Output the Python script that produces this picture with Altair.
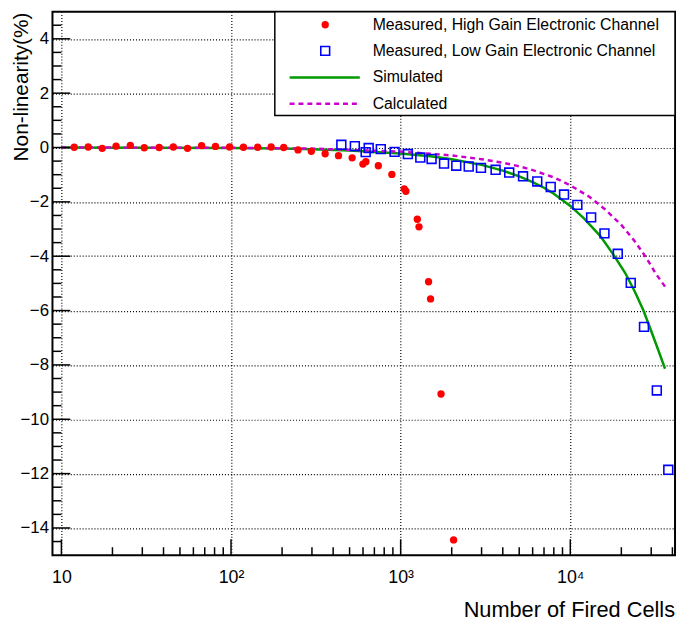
import altair as alt
import pandas as pd

# ---------------- data ----------------
hg_x = [11.9, 14.4, 17.4, 21.0, 25.5, 30.8, 37.7, 45.7, 55.4, 67.1, 81.0, 98.1, 118.4, 143.5,
        172.4, 204.4, 248.3, 297.5, 358.9, 430.2, 517.6, 599.1, 623.7, 738.5, 887.7,
        1049.5, 1073.7, 1254, 1283, 1461, 1501, 1730, 2052]
hg_y = [0.01, 0.02, -0.03, 0.05, 0.08, -0.01, 0.0, 0.02, -0.03, 0.07, 0.04, 0.02, 0.01, 0.01,
        0.02, 0.0, -0.09, -0.14, -0.23, -0.30, -0.38, -0.61, -0.52, -0.67, -0.99,
        -1.52, -1.61, -2.64, -2.92, -4.94, -5.57, -9.07, -14.44]

lg_x = [447, 537, 622, 648, 764, 921, 1103, 1306, 1522, 1802, 2128, 2519, 2975, 3629, 4366,
        5267, 6390, 7669, 9190, 11013, 13273, 15906, 19056, 22722, 27204, 32370, 37825]
lg_y = [0.10, 0.05, -0.17, -0.02, -0.06, -0.16, -0.24, -0.37, -0.42, -0.59, -0.67, -0.70,
        -0.75, -0.82, -0.92, -1.06, -1.25, -1.45, -1.73, -2.11, -2.57, -3.16, -3.91, -4.98,
        -6.60, -8.94, -11.86]

sim_x = [10, 30, 100, 200, 300, 500, 1000, 1500, 2000, 3000, 4000, 5000, 6000, 7000, 8000,
         10000, 12000, 15000, 18000, 21000, 24000, 27000, 30000, 33000, 36200]
sim_y = [0.0, -0.01, -0.02, -0.04, -0.06, -0.11, -0.22, -0.32, -0.43, -0.64, -0.85, -1.06,
         -1.27, -1.48, -1.70, -2.15, -2.60, -3.25, -3.95, -4.60, -5.30, -6.00, -6.75, -7.45,
         -8.14]

calc_x = [10, 100, 300, 1000, 2000, 3000, 4000, 5000, 6000, 8000, 10000, 13000, 16000,
          20000, 24000, 28000, 32000, 36300]
calc_y = [0.0, -0.01, -0.04, -0.15, -0.29, -0.43, -0.56, -0.69, -0.83, -1.10, -1.39, -1.82,
          -2.27, -2.85, -3.45, -4.05, -4.65, -5.13]

legend_labels = ["Measured, High Gain Electronic Channel",
                 "Measured, Low Gain Electronic Channel",
                 "Simulated", "Calculated"]

x_major = [10, 100, 1000, 10000]
x_labels = ["10", "10\u00b2", "10\u00b3", "10\u2074"]
x_minor = [20, 30, 40, 50, 60, 70, 80, 90,
           200, 300, 400, 500, 600, 700, 800, 900,
           2000, 3000, 4000, 5000, 6000, 7000, 8000, 9000,
           20000, 30000, 40000]
y_major = [-14, -12, -10, -8, -6, -4, -2, 0, 2, 4]
y_minor = [v / 2 for v in range(-29, 10) if (v / 2) not in y_major]

# ---------------- layout ----------------
W, H = 630, 550
FONT = "Liberation Sans"
RED, BLUE, GREEN, MAG = "#ff0000", "#0000ff", "#009900", "#cc00cc"

xs = alt.Scale(type="log", domain=[8.86, 41450], nice=False)
ys = alt.Scale(domain=[-15, 5], nice=False, zero=False)

label_expr = " : ".join(
    f"datum.value == {v} ? '{l}'" for v, l in zip(x_major[:-1], x_labels[:-1])
) + f" : '{x_labels[-1]}'"

x_axis = alt.Axis(values=x_major, labelExpr=label_expr, grid=True, ticks=False, domain=False,
                  title=None, labelFontSize=18, labelPadding=14, labelFont=FONT,
                  labelColor="black", gridColor="black", gridDash=[1, 2], gridWidth=1.2,
                  gridOpacity=1, labelFlush=False, labelOverlap=False, labelBound=False)
y_axis = alt.Axis(values=y_major, grid=True, ticks=False, domain=False, title=None,
                  labelFontSize=17, labelPadding=4, labelFont=FONT, labelColor="black",
                  gridColor="black", gridDash=[1, 2], gridWidth=1.2, gridOpacity=1,
                  labelFlush=False, labelOverlap=False, labelBound=False)

df_hg = pd.DataFrame({"x": hg_x, "y": hg_y})
df_lg = pd.DataFrame({"x": lg_x, "y": lg_y})
df_sim = pd.DataFrame({"x": sim_x, "y": sim_y})
df_calc = pd.DataFrame({"x": calc_x, "y": calc_y})
one = pd.DataFrame({"a": [0]})

sim = alt.Chart(df_sim).mark_line(color=GREEN, strokeWidth=2.5).encode(
    x=alt.X("x:Q", scale=xs, axis=x_axis),
    y=alt.Y("y:Q", scale=ys, axis=y_axis),
)
calc = alt.Chart(df_calc).mark_line(color=MAG, strokeWidth=2.5, strokeDash=[5, 4]).encode(
    x=alt.X("x:Q", scale=xs), y=alt.Y("y:Q", scale=ys))
hg = alt.Chart(df_hg).mark_circle(color=RED, size=55, opacity=1).encode(
    x=alt.X("x:Q", scale=xs), y=alt.Y("y:Q", scale=ys))
lg = alt.Chart(df_lg).mark_point(shape="square", filled=False, color=BLUE, size=80,
                                 strokeWidth=1.6, opacity=1).encode(
    x=alt.X("x:Q", scale=xs), y=alt.Y("y:Q", scale=ys))

# ticks drawn inside the frame (ROOT style)
xmaj = alt.Chart(pd.DataFrame({"x": x_major})).mark_rule(color="black", strokeWidth=1.5).encode(
    x=alt.X("x:Q", scale=xs), y=alt.value(H), y2=alt.value(H - 16))
xmin = alt.Chart(pd.DataFrame({"x": x_minor})).mark_rule(color="black", strokeWidth=1.5).encode(
    x=alt.X("x:Q", scale=xs), y=alt.value(H), y2=alt.value(H - 8))
ymaj = alt.Chart(pd.DataFrame({"y": y_major})).mark_rule(color="black", strokeWidth=1.5).encode(
    y=alt.Y("y:Q", scale=ys), x=alt.value(0), x2=alt.value(18))
ymin = alt.Chart(pd.DataFrame({"y": y_minor})).mark_rule(color="black", strokeWidth=1.5).encode(
    y=alt.Y("y:Q", scale=ys), x=alt.value(0), x2=alt.value(9))

# axis titles
ytitle = alt.Chart(one).mark_text(text="Non-linearity(%)", angle=270, align="right",
                                  baseline="alphabetic", fontSize=21, font=FONT,
                                  color="black").encode(x=alt.value(-25), y=alt.value(1))
xtitle = alt.Chart(one).mark_text(text="Number of Fired Cells", align="right",
                                  baseline="alphabetic", fontSize=22, font=FONT,
                                  color="black").encode(x=alt.value(W), y=alt.value(613))

# legend
LX0, LX1, LY1 = 225, W, 105
rows = [13.3, 39.7, 66.7, 93.3]
sym_x, line_x0, line_x1, text_x = 276, 240, 311, 324
leg_box = alt.Chart(one).mark_rect(fill="white", stroke="black", strokeWidth=1.5).encode(
    x=alt.value(LX0), x2=alt.value(LX1), y=alt.value(0), y2=alt.value(LY1))
leg_hg = alt.Chart(one).mark_circle(color=RED, size=55, opacity=1).encode(
    x=alt.value(sym_x), y=alt.value(rows[0]))
leg_lg = alt.Chart(one).mark_point(shape="square", filled=False, color=BLUE, size=80,
                                   strokeWidth=1.6, opacity=1).encode(
    x=alt.value(sym_x), y=alt.value(rows[1]))
leg_sim = alt.Chart(one).mark_rule(color=GREEN, strokeWidth=2.5).encode(
    x=alt.value(line_x0), x2=alt.value(line_x1), y=alt.value(rows[2]))
leg_calc = alt.Chart(one).mark_rule(color=MAG, strokeWidth=2.5, strokeDash=[5, 4]).encode(
    x=alt.value(line_x0), x2=alt.value(line_x1), y=alt.value(rows[3]))
leg_texts = [
    alt.Chart(one).mark_text(text=lab, align="left", baseline="middle", fontSize=16,
                             font=FONT, color="black").encode(
        x=alt.value(text_x), y=alt.value(r))
    for lab, r in zip(legend_labels, rows)
]

chart = alt.layer(
    sim, calc, hg, lg, xmaj, xmin, ymaj, ymin, ytitle, xtitle,
    leg_box, leg_hg, leg_lg, leg_sim, leg_calc, *leg_texts
).properties(
    width=W, height=H,
    autosize=alt.AutoSizeParams(type="none"),
    padding={"left": 45, "top": 0, "right": 2, "bottom": 66},
    background="white",
).configure_view(stroke="black", strokeWidth=2)

chart.save("out.html", embed_options={"renderer": "svg", "actions": False})
